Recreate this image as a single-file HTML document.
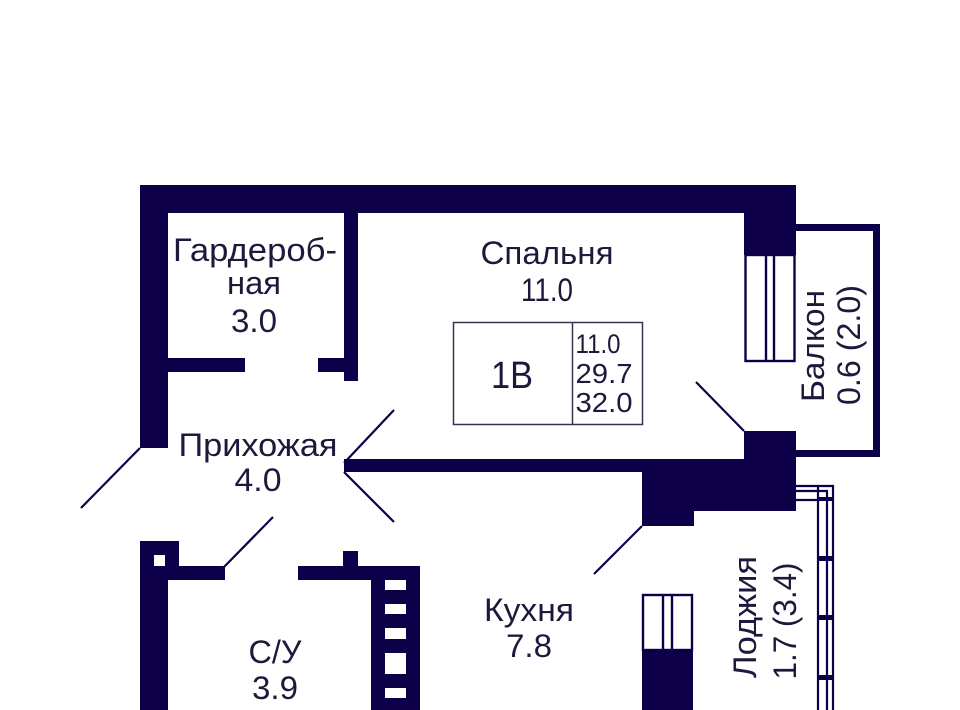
<!DOCTYPE html>
<html><head><meta charset="utf-8"><style>
html,body{margin:0;padding:0;background:#fff;width:960px;height:710px;overflow:hidden}
svg{display:block}
text{font-family:"Liberation Sans",sans-serif;fill:#1c1a3c;font-size:32px;text-anchor:middle}
</style></head><body>
<svg width="960" height="710" viewBox="0 0 960 710" xmlns="http://www.w3.org/2000/svg">
<g fill="#0d0048">
<rect x="140" y="185" width="656" height="28"/>
<rect x="140" y="185" width="28" height="263"/>
<rect x="344" y="213" width="14" height="168"/>
<rect x="168" y="358" width="77" height="14"/>
<rect x="318" y="358" width="26" height="14"/>
<rect x="744" y="185" width="52" height="70"/>
<rect x="744" y="431" width="52" height="80"/>
<rect x="344" y="459" width="400" height="13"/>
<rect x="642" y="472" width="102" height="39"/>
<rect x="642" y="511" width="52" height="15"/>
<rect x="796" y="224" width="84" height="7"/>
<rect x="873" y="224" width="7" height="233"/>
<rect x="796" y="450" width="84" height="7"/>
<rect x="140" y="541" width="39" height="39"/>
<rect x="140" y="580" width="28" height="130"/>
<rect x="168" y="566" width="57" height="14"/>
<rect x="298" y="566" width="122" height="14"/>
<rect x="343" y="551" width="15" height="15"/>
<rect x="371" y="580" width="49" height="130"/>
<rect x="642" y="650" width="51" height="60"/>
</g>
<g fill="#fff">
<rect x="154" y="555" width="11" height="11"/>
<rect x="385" y="580" width="21" height="10"/>
<rect x="385" y="604" width="21" height="10"/>
<rect x="385" y="628" width="21" height="11"/>
<rect x="385" y="653" width="21" height="21"/>
<rect x="385" y="688" width="21" height="10"/>
</g>
<g fill="none" stroke="#0d0048" stroke-width="2.4">
<rect x="745.500" y="255" width="49" height="106"/>
<path d="M766 255V361M774 255V361"/>
<rect x="643" y="595" width="49" height="55"/>
<path d="M663 595V650M672 595V650"/>
</g>
<g fill="none" stroke="#0d0048" stroke-width="2.2">
<path d="M796 486H833V710M796 491H827V710M796 500H818V710M818 500V486"/>
</g>
<g fill="#0d0048">
<rect x="818" y="556" width="15" height="5"/>
<rect x="818" y="615" width="15" height="5"/>
<rect x="818" y="675" width="15" height="5"/>
<rect x="818" y="497" width="15" height="4"/>
</g>
<g stroke="#0d0048" stroke-width="2.2" fill="none">
<path d="M140 448L81 508"/>
<path d="M344 463L394 410"/>
<path d="M344 472L394 522"/>
<path d="M744 431L696 382"/>
<path d="M642 526L594 574"/>
<path d="M224 567L273 517"/>
</g>
<g fill="none" stroke="#34344e" stroke-width="1.500">
<rect x="453.500" y="322.500" width="189" height="102"/>
<path d="M572.500 322V425"/>
</g>
<text x="255" y="261" textLength="164" lengthAdjust="spacingAndGlyphs">Гардероб-</text>
<text x="254" y="294" textLength="54" lengthAdjust="spacingAndGlyphs">ная</text>
<text x="254" y="332" textLength="46" lengthAdjust="spacingAndGlyphs">3.0</text>
<text x="547" y="264" textLength="133" lengthAdjust="spacingAndGlyphs">Спальня</text>
<text x="547" y="301" textLength="52" lengthAdjust="spacingAndGlyphs">11.0</text>
<text x="258" y="456" textLength="159" lengthAdjust="spacingAndGlyphs">Прихожая</text>
<text x="258" y="491" textLength="47" lengthAdjust="spacingAndGlyphs">4.0</text>
<text x="529" y="621" textLength="90" lengthAdjust="spacingAndGlyphs">Кухня</text>
<text x="529" y="657" textLength="46" lengthAdjust="spacingAndGlyphs">7.8</text>
<text x="275" y="663" textLength="53" lengthAdjust="spacingAndGlyphs">С/У</text>
<text x="275" y="699" textLength="46" lengthAdjust="spacingAndGlyphs">3.9</text>
<text x="512" y="388" style="font-size:38px" textLength="42" lengthAdjust="spacingAndGlyphs">1В</text>
<text x="598" y="353" style="font-size:27px" textLength="45" lengthAdjust="spacingAndGlyphs">11.0</text>
<text x="604" y="383" style="font-size:28px" textLength="57" lengthAdjust="spacingAndGlyphs">29.7</text>
<text x="604" y="412" style="font-size:28px" textLength="57" lengthAdjust="spacingAndGlyphs">32.0</text>
<text transform="translate(824,346) rotate(-90)" textLength="112" lengthAdjust="spacingAndGlyphs">Балкон</text>
<text transform="translate(860,345) rotate(-90)" textLength="120" lengthAdjust="spacingAndGlyphs">0.6 (2.0)</text>
<text transform="translate(756,617) rotate(-90)" textLength="122" lengthAdjust="spacingAndGlyphs">Лоджия</text>
<text transform="translate(796,621) rotate(-90)" textLength="117" lengthAdjust="spacingAndGlyphs">1.7 (3.4)</text>
</svg>
</body></html>
